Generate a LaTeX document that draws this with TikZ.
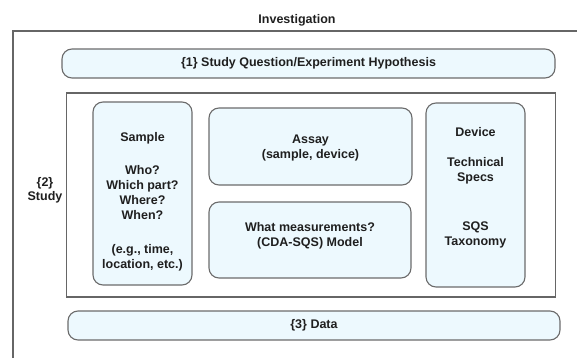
\documentclass[tikz,border=0pt]{standalone}
\usepackage{fontspec}
\setmainfont{Liberation Sans}
\begin{document}
\begin{tikzpicture}[x=1pt,y=-1pt,
  every node/.style={font=\fontsize{12.5}{15}\selectfont\bfseries, text=black!88},
  bluebox/.style={draw=black!58, line width=1.1pt, fill=cyan!7!white, rounded corners=10pt, inner sep=0pt},
  txt/.style={align=center, inner sep=0pt},
  frame/.style={draw=black!60, line width=1.5pt}]
\useasboundingbox (0,0) rectangle (577,358);
% outer investigation frame (open)
\coordinate (oBL) at (13,358);
\coordinate (oTL) at (13,31);
\coordinate (oTR) at (577,31);
\draw[frame] (oBL) -- (oTL) -- (oTR);
\node[txt] (inv) at (297,20) {Investigation};
% box 1
\node[bluebox, minimum width=493pt, minimum height=29pt] (q) at (308.5,63.5) {};
\node[txt] (qt) at (q.center) {\{1\} Study Question/Experiment Hypothesis};
% study frame
\node[frame, minimum width=489pt, minimum height=204pt, inner sep=0pt] (study) at (311,195) {};
\node[txt] (studyl) at (45,190) {\{2\}\\[-1pt]Study};
% sample
\node[bluebox, minimum width=99pt, minimum height=183pt] (sample) at (142.5,193.5) {};
\node[txt] (s1) at (142.5,138) {Sample};
\node[txt] (s2) at (142.5,192.5) {Who?\\Which part?\\Where?\\When?};
\node[txt] (s3) at (142.5,258) {(e.g., time,\\location, etc.)};
% assay
\node[bluebox, minimum width=203pt, minimum height=77pt] (assay) at (310.5,146.5) {};
\node[txt] (at) at (310.5,147.5) {Assay\\(sample, device)};
% measurements
\node[bluebox, minimum width=202pt, minimum height=76pt] (meas) at (310,240) {};
\node[txt] (mt) at (310,236) {What measurements?\\(CDA-SQS) Model};
% device
\node[bluebox, minimum width=99pt, minimum height=184pt] (dev) at (475.5,195) {};
\node[txt] (d1) at (475.5,132) {Device};
\node[txt] (d2) at (475.5,171) {Technical\\Specs};
\node[txt] (d3) at (475.5,235) {SQS\\Taxonomy};
% data
\node[bluebox, minimum width=492pt, minimum height=29pt] (data) at (314,325.5) {};
\node[txt] (dt) at (314,325.5) {\{3\} Data};
\end{tikzpicture}
\end{document}
